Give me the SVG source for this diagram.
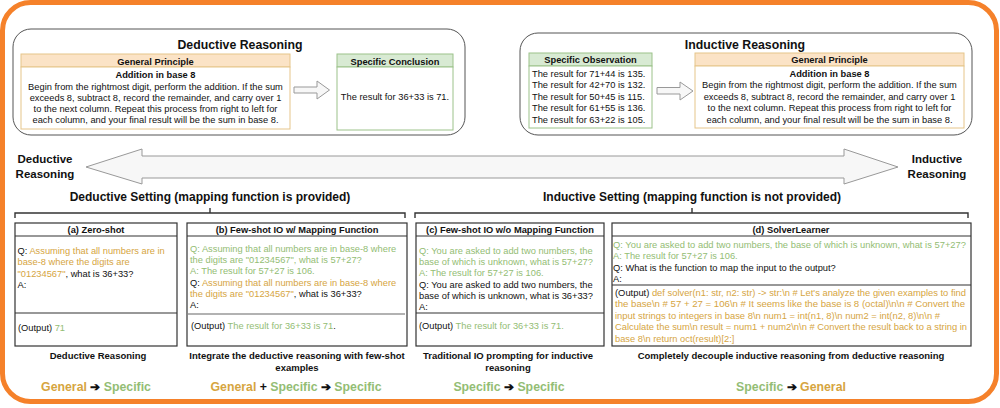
<svg xmlns="http://www.w3.org/2000/svg" width="1000" height="408" viewBox="0 0 1000 408">
<style>
text{font-family:"Liberation Sans",Arial,sans-serif;fill:#111}
.t{font-size:9.3px}
.b{font-weight:bold}
.c{text-anchor:middle}
.g{fill:#93bd74}
.o{fill:#d6a53f}
.big{font-size:12px;font-weight:bold}
.cap{font-size:9.5px;font-weight:bold;text-anchor:middle}
.gs{font-size:12.3px;font-weight:bold;text-anchor:middle}
.panel{fill:#fff;stroke:#555;stroke-width:1}
.hdrO{fill:#fbe3c6;stroke:#e6c58a;stroke-width:1}
.bodyO{fill:#fff;stroke:#e6c58a;stroke-width:1}
.hdrG{fill:#d8ead3;stroke:#9cc28a;stroke-width:1}
.bodyG{fill:#fff;stroke:#9cc28a;stroke-width:1}
.box{fill:#fff;stroke:#333;stroke-width:1.2}
.harrow{fill:#f7f7f7;stroke:#999;stroke-width:1}
.br{fill:none;stroke:#333;stroke-width:1.4}
</style>
<rect x="2.5" y="2.5" width="994" height="399" rx="28" fill="#fff" stroke="#f5812a" stroke-width="5"/>

<g id="deductive-panel">
<rect class="panel" x="13" y="29" width="452" height="106" rx="18"/>
<text class="c b" x="240" y="49" font-size="12.3">Deductive Reasoning</text>
</g>
<g id="ded-general-principle">
<rect class="hdrO" x="21" y="54" width="269" height="13"/>
<rect class="bodyO" x="21" y="67" width="269" height="62"/>
<text class="t b c" x="155.5" y="64.5">General Principle</text>
<text class="t b c" x="155.5" y="77.5">Addition in base 8</text>
<text class="t c" x="155.5" y="89.5">Begin from the rightmost digit, perform the addition. If the sum</text>
<text class="t c" x="155.5" y="101">exceeds 8, subtract 8, record the remainder, and carry over 1</text>
<text class="t c" x="155.5" y="112">to the next column. Repeat this process from right to left for</text>
<text class="t c" x="155.5" y="123">each column, and your final result will be the sum in base 8.</text>
</g>
<g id="ded-specific-conclusion">
<rect class="hdrG" x="337" y="54" width="116" height="13"/>
<rect class="bodyG" x="337" y="67" width="116" height="63"/>
<text class="t b c" x="395" y="64.5">Specific Conclusion</text>
<text class="t c" x="395" y="99.5">The result for 36+33 is 71.</text>
</g>

<g id="inductive-panel">
<rect class="panel" x="520" y="33" width="452" height="102" rx="18"/>
<text class="c b" x="745" y="49" font-size="12.3">Inductive Reasoning</text>
</g>
<g id="ind-specific-observation">
<rect class="hdrG" x="529" y="53" width="123" height="13"/>
<rect class="bodyG" x="529" y="66" width="123" height="62"/>
<text class="t b c" x="590.5" y="63">Specific Observation</text>
<text class="t" x="532" y="76.5">The result for 71+44 is 135.</text>
<text class="t" x="532" y="88">The result for 42+70 is 132.</text>
<text class="t" x="532" y="99.5">The result for 50+45 is 115.</text>
<text class="t" x="532" y="111">The result for 61+55 is 136.</text>
<text class="t" x="532" y="122.5">The result for 63+22 is 105.</text>
</g>
<g id="ind-general-principle">
<rect class="hdrO" x="695" y="53" width="269" height="13"/>
<rect class="bodyO" x="695" y="66" width="269" height="62"/>
<text class="t b c" x="829.5" y="63">General Principle</text>
<text class="t b c" x="829.5" y="76.5">Addition in base 8</text>
<text class="t c" x="829.5" y="88">Begin from the rightmost digit, perform the addition. If the sum</text>
<text class="t c" x="829.5" y="99.5">exceeds 8, subtract 8, record the remainder, and carry over 1</text>
<text class="t c" x="829.5" y="111">to the next column. Repeat this process from right to left for</text>
<text class="t c" x="829.5" y="122.5">each column, and your final result will be the sum in base 8.</text>
</g>

<g id="connectors">
<polygon class="harrow" points="294,87 317,87 317,81 329.5,90 317,99 317,93 294,93"/>
<polygon class="harrow" points="657,87.5 680,87.5 680,82 693,91 680,100 680,94 657,94"/>
<polygon class="harrow" points="86,167 142,149 142,156 844,156 844,149 898,167 844,184 844,178 142,178 142,184"/>
<path class="br" d="M15,218 V213 H405 V218 M210,213 V208"/>
<path class="br" d="M415,218 V213 H968 V218 M692,213 V208"/>
</g>

<g id="axis-labels">
<text class="c b" x="45" y="163" font-size="11.5">Deductive</text>
<text class="c b" x="45" y="178" font-size="11.5">Reasoning</text>
<text class="c b" x="937" y="163" font-size="11.5">Inductive</text>
<text class="c b" x="937" y="178" font-size="11.5">Reasoning</text>
<text class="big c" x="210" y="201">Deductive Setting (mapping function is provided)</text>
<text class="big c" x="692" y="201">Inductive Setting (mapping function is not provided)</text>
</g>

<g id="zero-shot">
<rect class="box" x="15" y="223" width="162" height="123"/>
<line x1="15" y1="236" x2="177" y2="236" stroke="#333" stroke-width="1.2"/>
<line x1="15" y1="313" x2="177" y2="313" stroke="#333" stroke-width="1.2"/>
<text class="t b c" x="96" y="233">(a) Zero-shot</text>
<text class="t" x="17.5" y="253.5">Q: <tspan class="o">Assuming that all numbers are in</tspan></text>
<text class="t o" x="17.5" y="265">base-8 where the digits are</text>
<text class="t" x="17.5" y="276.5"><tspan class="o">"01234567"</tspan>, what is 36+33?</text>
<text class="t" x="17.5" y="288">A:</text>
<text class="t" x="18" y="331">(Output) <tspan class="g">71</tspan></text>
<text class="cap" x="98" y="359">Deductive Reasoning</text>
<text class="gs" x="96" y="391"><tspan class="o">General</tspan> ➔ <tspan class="g">Specific</tspan></text>
</g>

<g id="few-shot-with-mapping">
<rect class="box" x="187" y="223" width="220" height="123"/>
<line x1="187" y1="236" x2="407" y2="236" stroke="#333" stroke-width="1.2"/>
<line x1="188" y1="314" x2="405" y2="314" stroke="#999" stroke-width="1.5"/>
<text class="t b c" x="297" y="233">(b) Few-shot IO w/ Mapping Function</text>
<text class="t g" x="190" y="251.5">Q: Assuming that all numbers are in base-8 where</text>
<text class="t g" x="190" y="263">the digits are "01234567", what is 57+27?</text>
<text class="t g" x="190" y="274">A: The result for 57+27 is 106.</text>
<text class="t" x="190" y="285.5">Q: <tspan class="o">Assuming that all numbers are in base-8 where</tspan></text>
<text class="t" x="190" y="297"><tspan class="o">the digits are "01234567"</tspan>, what is 36+33?</text>
<text class="t" x="190" y="308">A:</text>
<text class="t" x="191" y="329">(Output) <tspan class="g">The result for 36+33 is 71</tspan>.</text>
<text class="cap" x="297" y="359">Integrate the deductive reasoning with few-shot</text>
<text class="cap" x="297" y="370.5">examples</text>
<text class="gs" x="296" y="391"><tspan class="o">General</tspan> + <tspan class="g">Specific</tspan> ➔ <tspan class="g">Specific</tspan></text>
</g>

<g id="few-shot-without-mapping">
<rect class="box" x="416" y="223" width="188" height="123"/>
<line x1="416" y1="236" x2="604" y2="236" stroke="#333" stroke-width="1.2"/>
<line x1="416" y1="313" x2="604" y2="313" stroke="#333" stroke-width="1.2"/>
<text class="t b c" x="510" y="233">(c) Few-shot IO w/o Mapping Function</text>
<text class="t g" x="419" y="253.5">Q: You are asked to add two numbers, the</text>
<text class="t g" x="419" y="265">base of which is unknown, what is 57+27?</text>
<text class="t g" x="419" y="276">A: The result for 57+27 is 106.</text>
<text class="t" x="419" y="287.5">Q: You are asked to add two numbers, the</text>
<text class="t" x="419" y="299">base of which is unknown, what is 36+33?</text>
<text class="t" x="419" y="310">A:</text>
<text class="t" x="419" y="329">(Output) <tspan class="g">The result for 36+33 is 71.</tspan></text>
<text class="cap" x="508" y="359">Traditional IO prompting for inductive</text>
<text class="cap" x="508" y="370.5">reasoning</text>
<text class="gs" x="509" y="391"><tspan class="g">Specific</tspan> ➔ <tspan class="g">Specific</tspan></text>
</g>

<g id="solver-learner">
<rect class="box" x="612" y="223" width="359" height="123"/>
<line x1="612" y1="236" x2="971" y2="236" stroke="#333" stroke-width="1.2"/>
<line x1="612" y1="285" x2="971" y2="285" stroke="#333" stroke-width="1.2"/>
<text class="t b c" x="791" y="233">(d) SolverLearner</text>
<text class="t g" x="613" y="247.5" textLength="353" lengthAdjust="spacingAndGlyphs">Q: You are asked to add two numbers, the base of which is unknown, what is 57+27?</text>
<text class="t g" x="613" y="258.8">A: The result for 57+27 is 106.</text>
<text class="t" x="613" y="270.5">Q: What is the function to map the input to the output?</text>
<text class="t" x="613" y="282">A:</text>
<text class="t" x="615" y="295.5" textLength="351" lengthAdjust="spacingAndGlyphs">(Output) <tspan class="o">def solver(n1: str, n2: str) -&gt; str:\n # Let's analyze the given examples to find</tspan></text>
<text class="t o" x="615" y="307" textLength="350" lengthAdjust="spacingAndGlyphs">the base\n # 57 + 27 = 106\n # It seems like the base is 8 (octal)\n\n # Convert the</text>
<text class="t o" x="615" y="318.5" textLength="325" lengthAdjust="spacingAndGlyphs">input strings to integers in base 8\n num1 = int(n1, 8)\n num2 = int(n2, 8)\n\n #</text>
<text class="t o" x="615" y="330" textLength="352" lengthAdjust="spacingAndGlyphs">Calculate the sum\n result = num1 + num2\n\n # Convert the result back to a string in</text>
<text class="t o" x="615" y="341.5">base 8\n return oct(result)[2:]</text>
<text class="cap" x="791" y="359">Completely decouple inductive reasoning from deductive reasoning</text>
<text class="gs" x="791" y="391"><tspan class="g">Specific</tspan> ➔ <tspan class="o">General</tspan></text>
</g>
</svg>
